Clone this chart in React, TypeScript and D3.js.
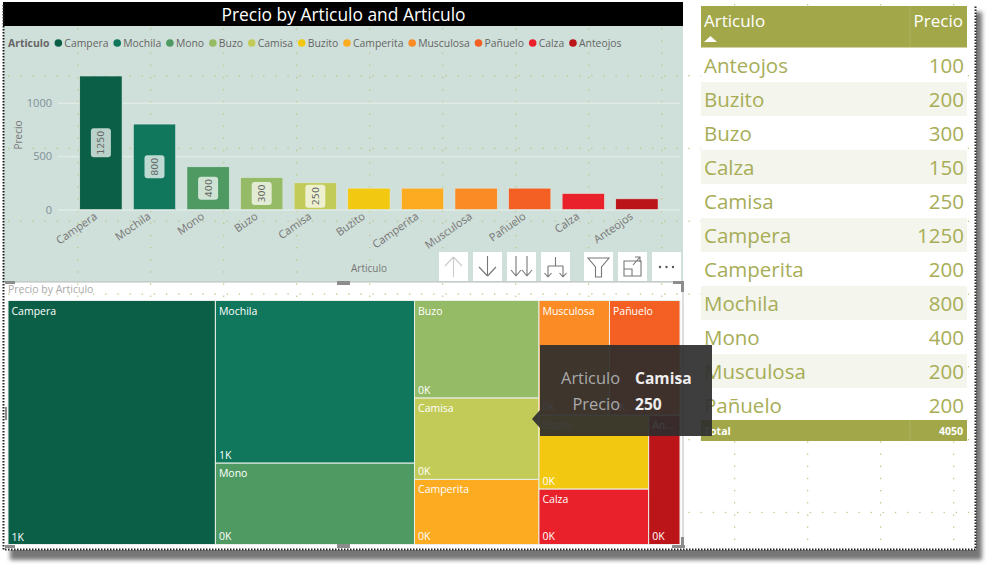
import * as d3 from "d3";
import { useEffect, useRef } from "react";

// order of the legend / bars
const articulos = ["Campera", "Mochila", "Mono", "Buzo", "Camisa", "Buzito", "Camperita", "Musculosa", "Pañuelo", "Calza", "Anteojos"];
const precios = [1250, 800, 400, 300, 250, 200, 200, 200, 200, 150, 100];
const colores = ["#0b5f46", "#10775d", "#4f9a62", "#96bb66", "#c3cb58", "#f2c811", "#fdab20", "#fa8b25", "#f46024", "#e8212b", "#bb1419"];
// treemap columns, the way the visual grouped the tiles
const columna1 = ["Campera"];
const columna2 = ["Mochila", "Mono"];
const columna3 = ["Buzo", "Camisa", "Camperita"];
const filaArriba = ["Musculosa", "Pañuelo"];
const filaAbajo = ["Buzito", "Calza"];
const filaFin = ["Anteojos"];
// table rows, alphabetical
const filasArticulo = ["Anteojos", "Buzito", "Buzo", "Calza", "Camisa", "Campera", "Camperita", "Mochila", "Mono", "Musculosa", "Pañuelo"];
const filasPrecio = [100, 200, 300, 150, 250, 1250, 200, 800, 400, 200, 200];
const total = 4050;
const yTicks = [0, 500, 1000];

const FONT = "'Open Sans', 'Noto Sans', sans-serif";

const hoja = (a: string) => ({ name: a, value: precios[articulos.indexOf(a)] });

export default function App() {
  const ref = useRef<SVGSVGElement>(null);

  useEffect(() => {
    const svg = d3.select(ref.current);
    svg.selectAll("*").remove();

    // page shadow
    const defs = svg.append("defs");
    defs.append("filter").attr("id", "blur").append("feGaussianBlur").attr("stdDeviation", 2.2);
    svg.append("rect").attr("x", 10).attr("y", 12).attr("width", 972).attr("height", 548)
      .attr("fill", "#777").attr("filter", "url(#blur)");
    svg.append("rect").attr("x", 3).attr("y", 2).attr("width", 973).attr("height", 548).attr("fill", "#fff");

    // report canvas
    svg.append("rect").attr("x", 3).attr("y", 26).attr("width", 680).attr("height", 256).attr("fill", "#cfdfd9");
    svg.append("rect").attr("x", 5).attr("y", 282).attr("width", 678).attr("height", 265).attr("fill", "#fff");

    // snap grid dots
    const gridDots = svg.append("g").attr("fill", "#bfc78a");
    const lineasV = d3.range(77, 975, 73);
    const lineasH = d3.range(75, 549, 72.8);
    lineasV.forEach((x) => {
      d3.range(4, 548, 12.15).forEach((y) => {
        gridDots.append("rect").attr("x", x).attr("y", y).attr("width", 1.3).attr("height", 1.3);
      });
    });
    lineasH.forEach((y) => {
      d3.range(8, 975, 12.15).forEach((x) => {
        gridDots.append("rect").attr("x", x).attr("y", y).attr("width", 1.3).attr("height", 1.3);
      });
    });

    // title bar
    svg.append("rect").attr("x", 3).attr("y", 2).attr("width", 680).attr("height", 24).attr("fill", "#000");
    svg.append("text").attr("x", 343.5).attr("y", 21).attr("text-anchor", "middle")
      .attr("font-size", 17.4).attr("font-family", FONT).attr("fill", "#fff")
      .text("Precio by Articulo and Articulo");

    // legend
    const legend = svg.append("g").attr("font-family", FONT).attr("font-size", 10.4);
    const legendTitle = legend.append("text").attr("x", 8).attr("y", 47)
      .attr("font-weight", 700).attr("fill", "#666").text("Articulo");
    let lx = 8 + (legendTitle.node() as SVGTextElement).getComputedTextLength() + 5;
    articulos.forEach((a, i) => {
      legend.append("circle").attr("cx", lx + 4).attr("cy", 43).attr("r", 3.8).attr("fill", colores[i]);
      const t = legend.append("text").attr("x", lx + 10).attr("y", 47).attr("fill", "#666").text(a);
      lx += 10 + (t.node() as SVGTextElement).getComputedTextLength() + 4.7;
    });

    // column chart
    const x = d3.scaleBand<string>().domain(articulos).range([74.1, 663.7]).paddingInner(0.21).paddingOuter(0.105);
    const y = d3.scaleLinear().domain([0, 1000]).range([209.5, 102.7]);

    const yAxis = svg.append("g").attr("transform", "translate(58,0)")
      .call(d3.axisLeft(y).tickValues(yTicks).tickSize(-622).tickPadding(6).tickFormat((d) => String(d)));
    yAxis.select(".domain").remove();
    yAxis.selectAll("line").attr("stroke", "#e1ebe6").attr("stroke-width", 1.5);
    yAxis.selectAll("text").attr("font-family", FONT).attr("font-size", 11).attr("fill", "#7f8f99");

    svg.append("text").attr("transform", "translate(22,135) rotate(-90)").attr("text-anchor", "middle")
      .attr("font-family", FONT).attr("font-size", 10).attr("fill", "#777").text("Precio");

    const barras = svg.append("g");
    articulos.forEach((a, i) => {
      barras.append("rect").attr("x", x(a)!).attr("y", y(precios[i])).attr("width", x.bandwidth())
        .attr("height", y(0) - y(precios[i])).attr("fill", colores[i])
        .attr("stroke", "#dfe9e4").attr("stroke-width", 0.6);
      if (precios[i] >= 250) {
        const cx = x(a)! + x.bandwidth() / 2;
        const cy = (y(precios[i]) + y(0)) / 2;
        const alto = String(precios[i]).length === 4 ? 29 : 23;
        barras.append("rect").attr("x", cx - 10).attr("y", cy - alto / 2).attr("width", 20).attr("height", alto)
          .attr("rx", 3).attr("fill", "#fff").attr("fill-opacity", 0.72);
        barras.append("text").attr("transform", `translate(${cx + 3.5},${cy}) rotate(-90)`)
          .attr("text-anchor", "middle").attr("font-family", "'DejaVu Sans', sans-serif").attr("font-size", 9.5)
          .attr("fill", "#666").text(precios[i]);
      }
    });

    const xLabels = svg.append("g").attr("font-family", FONT).attr("font-size", 11).attr("fill", "#777");
    articulos.forEach((a) => {
      const cx = x(a)! + x.bandwidth() / 2;
      xLabels.append("text").attr("transform", `translate(${cx - 3},218) rotate(-35)`)
        .attr("text-anchor", "end").text(a);
    });
    svg.append("text").attr("x", 369).attr("y", 272).attr("text-anchor", "middle")
      .attr("font-family", FONT).attr("font-size", 10).attr("fill", "#777").text("Articulo");

    // visual header buttons
    const botones = [439, 473, 507, 541, 584, 618, 652];
    const iconos = [
      "M14.5 5V25M14.5 5L6 14M14.5 5L23 14",
      "M14.5 4V24M14.5 24L6 15M14.5 24L23 15",
      "M9 4V24M9 24L4 18M9 24L14 18M20 4V24M20 24L15 18M20 24L25 18",
      "M14.5 5V14M7 14H22M7 14V25M7 25L3.5 21M7 25L10.5 21M22 14V25M22 25L18.5 21M22 25L25.5 21",
      "M4 6H25L17.5 15V25H11.5V15Z",
      "M6 9H23V24H6ZM6 17H14V24M15 13L22 5M17 5H22V10",
      "",
    ];
    botones.forEach((bx, i) => {
      const g = svg.append("g").attr("transform", `translate(${bx},252)`);
      g.append("rect").attr("width", 29).attr("height", 29).attr("fill", "#fff");
      if (iconos[i]) {
        g.append("path").attr("d", iconos[i]).attr("fill", "none")
          .attr("stroke", i === 0 ? "#ccc" : "#777").attr("stroke-width", 1.1);
      } else {
        [8, 14.5, 21].forEach((d) => g.append("circle").attr("cx", d).attr("cy", 15).attr("r", 1.2).attr("fill", "#555"));
      }
    });

    // treemap focus frame
    svg.append("text").attr("x", 8).attr("y", 293).attr("font-family", FONT).attr("font-size", 10.5)
      .attr("fill", "#aaa").text("Precio by Articulo");
    svg.append("line").attr("x1", 5).attr("x2", 683).attr("y1", 282).attr("y2", 282).attr("stroke", "#bbb");
    svg.append("line").attr("x1", 683).attr("x2", 683).attr("y1", 282).attr("y2", 547).attr("stroke", "#bbb");

    // treemap: columns left to right, each one split by depth
    const raiz = d3.hierarchy<any>({
      children: [
        { children: columna1.map(hoja) },
        { children: columna2.map(hoja) },
        { children: columna3.map(hoja) },
        {
          children: [
            { children: filaArriba.map(hoja) },
            { children: [{ children: filaAbajo.map(hoja) }, ...filaFin.map(hoja)] },
          ],
        },
      ],
    }).sum((d) => d.value || 0);
    const tile = (node: any, x0: number, y0: number, x1: number, y1: number) => {
      const tiler = node.depth % 2 === 0 ? d3.treemapDice : d3.treemapSlice;
      tiler(node, x0, y0, x1, y1);
    };
    d3.treemap<any>().tile(tile).size([672, 244])(raiz);
    const celdas = svg.append("g").attr("transform", "translate(8,300.5)");
    (raiz.leaves() as d3.HierarchyRectangularNode<any>[]).forEach((n) => {
      const g = celdas.append("g").attr("transform", `translate(${n.x0},${n.y0})`);
      const w = n.x1 - n.x0;
      const h = n.y1 - n.y0;
      g.append("rect").attr("width", w).attr("height", h)
        .attr("fill", colores[articulos.indexOf(n.data.name)])
        .attr("stroke", "#e8efe8").attr("stroke-width", 1);
      const chico = w < 40;
      g.append("text").attr("x", 3.5).attr("y", 14).attr("font-family", FONT).attr("font-size", 10.5)
        .attr("fill", "#fff").text(chico ? n.data.name.slice(0, 2) + "..." : n.data.name);
      g.append("text").attr("x", 3.5).attr("y", h - 4).attr("font-family", FONT).attr("font-size", 10.5)
        .attr("fill", "#fff").text(`${Math.round(n.data.value / 1000)}K`);
    });

    // resize handles
    const handles = [
      [5, 281, 10, 3], [337, 281, 13, 4], [673, 281, 11, 3], [681, 281, 3, 11],
      [5, 407, 2, 13], [5, 545, 10, 3], [337, 544, 13, 4], [672, 545, 13, 3], [681, 537, 3, 10],
    ];
    handles.forEach(([hx, hy, hw, hh]) => {
      svg.append("rect").attr("x", hx).attr("y", hy).attr("width", hw).attr("height", hh).attr("fill", "#8c8c8c");
    });

    // table
    const tabla = svg.append("g").attr("font-family", FONT);
    const xTabla = 701;
    const anchoTabla = 266;
    const filaY = d3.scaleBand<string>().domain(filasArticulo).range([48, 422]);
    tabla.append("rect").attr("x", xTabla).attr("y", 6).attr("width", anchoTabla).attr("height", 41.5).attr("fill", "#a2a84a");
    tabla.append("line").attr("x1", 910).attr("x2", 910).attr("y1", 6).attr("y2", 47).attr("stroke", "#adb25f");
    tabla.append("text").attr("x", 704).attr("y", 27).attr("font-size", 17).attr("fill", "#fff").text("Articulo");
    tabla.append("text").attr("x", 963).attr("y", 27).attr("font-size", 17).attr("fill", "#fff").attr("text-anchor", "end").text("Precio");
    tabla.append("path").attr("d", "M704 42L717 42L710.5 36Z").attr("fill", "#fff");
    filasArticulo.forEach((a, i) => {
      const fy = filaY(a)!;
      tabla.append("rect").attr("x", xTabla).attr("y", fy).attr("width", anchoTabla).attr("height", filaY.bandwidth())
        .attr("fill", i % 2 === 0 ? "#fff" : "#f4f5ec");
      tabla.append("text").attr("x", 704).attr("y", fy + 24.5).attr("font-size", 20.5).attr("fill", "#a7ad56").text(a);
      tabla.append("text").attr("x", 964).attr("y", fy + 24.5).attr("font-size", 20.5).attr("fill", "#a7ad56")
        .attr("text-anchor", "end").text(filasPrecio[i]);
    });
    tabla.append("rect").attr("x", xTabla).attr("y", 420).attr("width", anchoTabla).attr("height", 21).attr("fill", "#a2a84a");
    tabla.append("line").attr("x1", 910).attr("x2", 910).attr("y1", 420).attr("y2", 441).attr("stroke", "#adb25f");
    tabla.append("text").attr("x", 704).attr("y", 435).attr("font-size", 10.5).attr("font-weight", 700).attr("fill", "#fff").text("Total");
    tabla.append("text").attr("x", 963).attr("y", 435).attr("font-size", 10.5).attr("font-weight", 700).attr("fill", "#fff")
      .attr("text-anchor", "end").text(total);

    // canvas outline
    svg.append("path").attr("d", "M3.5 5V549.5H975.5V5").attr("fill", "none").attr("stroke", "#222")
      .attr("stroke-width", 2).attr("stroke-dasharray", "1.5 1.5");

    // tooltip
    const tip = svg.append("g");
    tip.append("path").attr("d", "M540 345H712V436H540V428L532 419L540 410Z").attr("fill", "#2e2e2e").attr("fill-opacity", 0.92);
    tip.append("text").attr("x", 620).attr("y", 384).attr("text-anchor", "end").attr("font-family", FONT)
      .attr("font-size", 16.4).attr("fill", "#aaa").text("Articulo");
    tip.append("text").attr("x", 635).attr("y", 384).attr("font-family", FONT).attr("font-weight", 700)
      .attr("font-size", 15.6).attr("fill", "#eee").text("Camisa");
    tip.append("text").attr("x", 620).attr("y", 410).attr("text-anchor", "end").attr("font-family", FONT)
      .attr("font-size", 16.4).attr("fill", "#aaa").text("Precio");
    tip.append("text").attr("x", 635).attr("y", 410).attr("font-family", FONT).attr("font-weight", 700)
      .attr("font-size", 15.6).attr("fill", "#eee").text(250);
  }, []);

  return (
    <svg
      ref={ref}
      width={998}
      height={572}
      style={{ position: "absolute", left: 0, top: 0, background: "#fff" }}
    />
  );
}
